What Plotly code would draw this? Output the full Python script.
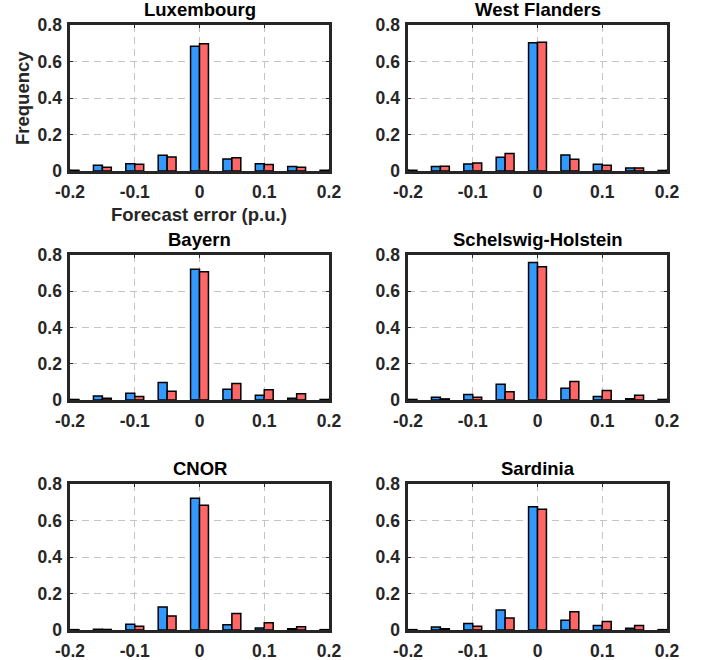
import plotly.graph_objects as go

bins = [-0.2, -0.15, -0.1, -0.05, 0.0, 0.05, 0.1, 0.15, 0.2]

regions = ["Luxembourg", "West Flanders", "Bayern", "Schelswig-Holstein", "CNOR", "Sardinia"]

blue_luxembourg = [0.004, 0.031, 0.040, 0.086, 0.684, 0.066, 0.040, 0.024, 0.004]
red_luxembourg = [0.004, 0.020, 0.037, 0.077, 0.697, 0.072, 0.035, 0.020, 0.004]

blue_west_flanders = [0.005, 0.024, 0.039, 0.075, 0.703, 0.088, 0.037, 0.017, 0.003]
red_west_flanders = [0.004, 0.026, 0.044, 0.096, 0.706, 0.064, 0.031, 0.017, 0.003]

blue_bayern = [0.003, 0.022, 0.037, 0.096, 0.722, 0.059, 0.026, 0.009, 0.003]
red_bayern = [0.003, 0.009, 0.019, 0.048, 0.707, 0.091, 0.057, 0.035, 0.003]

blue_schelswig = [0.003, 0.015, 0.031, 0.087, 0.759, 0.065, 0.020, 0.007, 0.003]
red_schelswig = [0.003, 0.006, 0.015, 0.046, 0.735, 0.102, 0.052, 0.026, 0.003]

blue_cnor = [0.002, 0.004, 0.031, 0.126, 0.722, 0.029, 0.011, 0.007, 0.002]
red_cnor = [0.002, 0.003, 0.020, 0.077, 0.683, 0.090, 0.040, 0.018, 0.002]

blue_sardinia = [0.002, 0.016, 0.035, 0.110, 0.676, 0.053, 0.024, 0.009, 0.002]
red_sardinia = [0.002, 0.007, 0.020, 0.066, 0.661, 0.100, 0.046, 0.024, 0.002]

blue_series = [blue_luxembourg, blue_west_flanders, blue_bayern, blue_schelswig, blue_cnor, blue_sardinia]
red_series = [red_luxembourg, red_west_flanders, red_bayern, red_schelswig, red_cnor, red_sardinia]

x_ticks = [-0.2, -0.1, 0, 0.1, 0.2]
x_ticklabels = ["-0.2", "-0.1", "0", "0.1", "0.2"]
y_ticks = [0, 0.2, 0.4, 0.6, 0.8]
y_ticklabels = ["0", "0.2", "0.4", "0.6", "0.8"]

W, H = 705, 660


def px(xp):
    return xp / W


def py(yp):
    return 1 - yp / H


col_px = [(70, 329), (408, 667)]
row_px = [(25, 171), (255, 400), (484, 630)]

BLUE = "#3399FF"
RED = "#FF6666"
AXC = "#262626"
FONT = "Liberation Sans, Arial, sans-serif"
BW = 0.0138

fig = go.Figure()
annotations = []
for i, name in enumerate(regions):
    r, c = divmod(i, 2)
    idx = "" if i == 0 else str(i + 1)
    xa, ya = "x" + idx, "y" + idx
    x0, x1 = col_px[c]
    y0, y1 = row_px[r]
    xdom = [px(x0), px(x1)]
    ydom = [py(y1), py(y0)]
    fig.add_trace(go.Bar(x=bins, y=blue_series[i], width=BW, offset=-BW,
                         marker=dict(color=BLUE, line=dict(color="black", width=1.5)),
                         xaxis=xa, yaxis=ya, showlegend=False, name="Blue"))
    fig.add_trace(go.Bar(x=bins, y=red_series[i], width=BW, offset=0,
                         marker=dict(color=RED, line=dict(color="black", width=1.5)),
                         xaxis=xa, yaxis=ya, showlegend=False, name="Red"))
    common = dict(showline=True, linewidth=2.6, linecolor=AXC, mirror="allticks",
                  ticks="inside", ticklen=3, tickwidth=1, tickcolor=AXC,
                  showgrid=True, gridcolor="#c4c4c4", gridwidth=1, griddash="7px,5px",
                  zeroline=False, automargin=False,
                  tickfont=dict(family=FONT, size=17.5, color=AXC, weight="bold"))
    fig.layout["xaxis" + idx] = dict(domain=xdom, range=[-0.2, 0.2], anchor=ya,
                                      tickvals=x_ticks, ticktext=x_ticklabels,
                                      ticklabelstandoff=3, **common)
    fig.layout["yaxis" + idx] = dict(domain=ydom, range=[0, 0.8], anchor=xa,
                                      tickvals=y_ticks, ticktext=y_ticklabels,
                                      ticklabelstandoff=2, **common)
    annotations.append(dict(text="<b>" + name + "</b>", x=px((x0 + x1) / 2), y=py(y0 - 15.5),
                            xref="paper", yref="paper", showarrow=False,
                            xanchor="center", yanchor="middle",
                            font=dict(family=FONT, size=18.5, color="black")))

annotations.append(dict(text="<b>Frequency</b>", x=px(23), y=py(98), xref="paper", yref="paper",
                        showarrow=False, textangle=-90, xanchor="center", yanchor="middle",
                        font=dict(family=FONT, size=18.5, color=AXC)))
annotations.append(dict(text="<b>Forecast error (p.u.)</b>", x=px(199), y=py(214), xref="paper",
                        yref="paper", showarrow=False, xanchor="center", yanchor="middle",
                        font=dict(family=FONT, size=18.5, color=AXC)))

fig.update_layout(width=W, height=H, margin=dict(l=0, r=0, t=0, b=0, autoexpand=False),
                  plot_bgcolor="white", paper_bgcolor="white", showlegend=False,
                  barmode="overlay", annotations=annotations, hovermode=False)

fig.write_html("out.html", config={"displayModeBar": False, "staticPlot": True},
               post_script="document.body.style.margin='0px';")
